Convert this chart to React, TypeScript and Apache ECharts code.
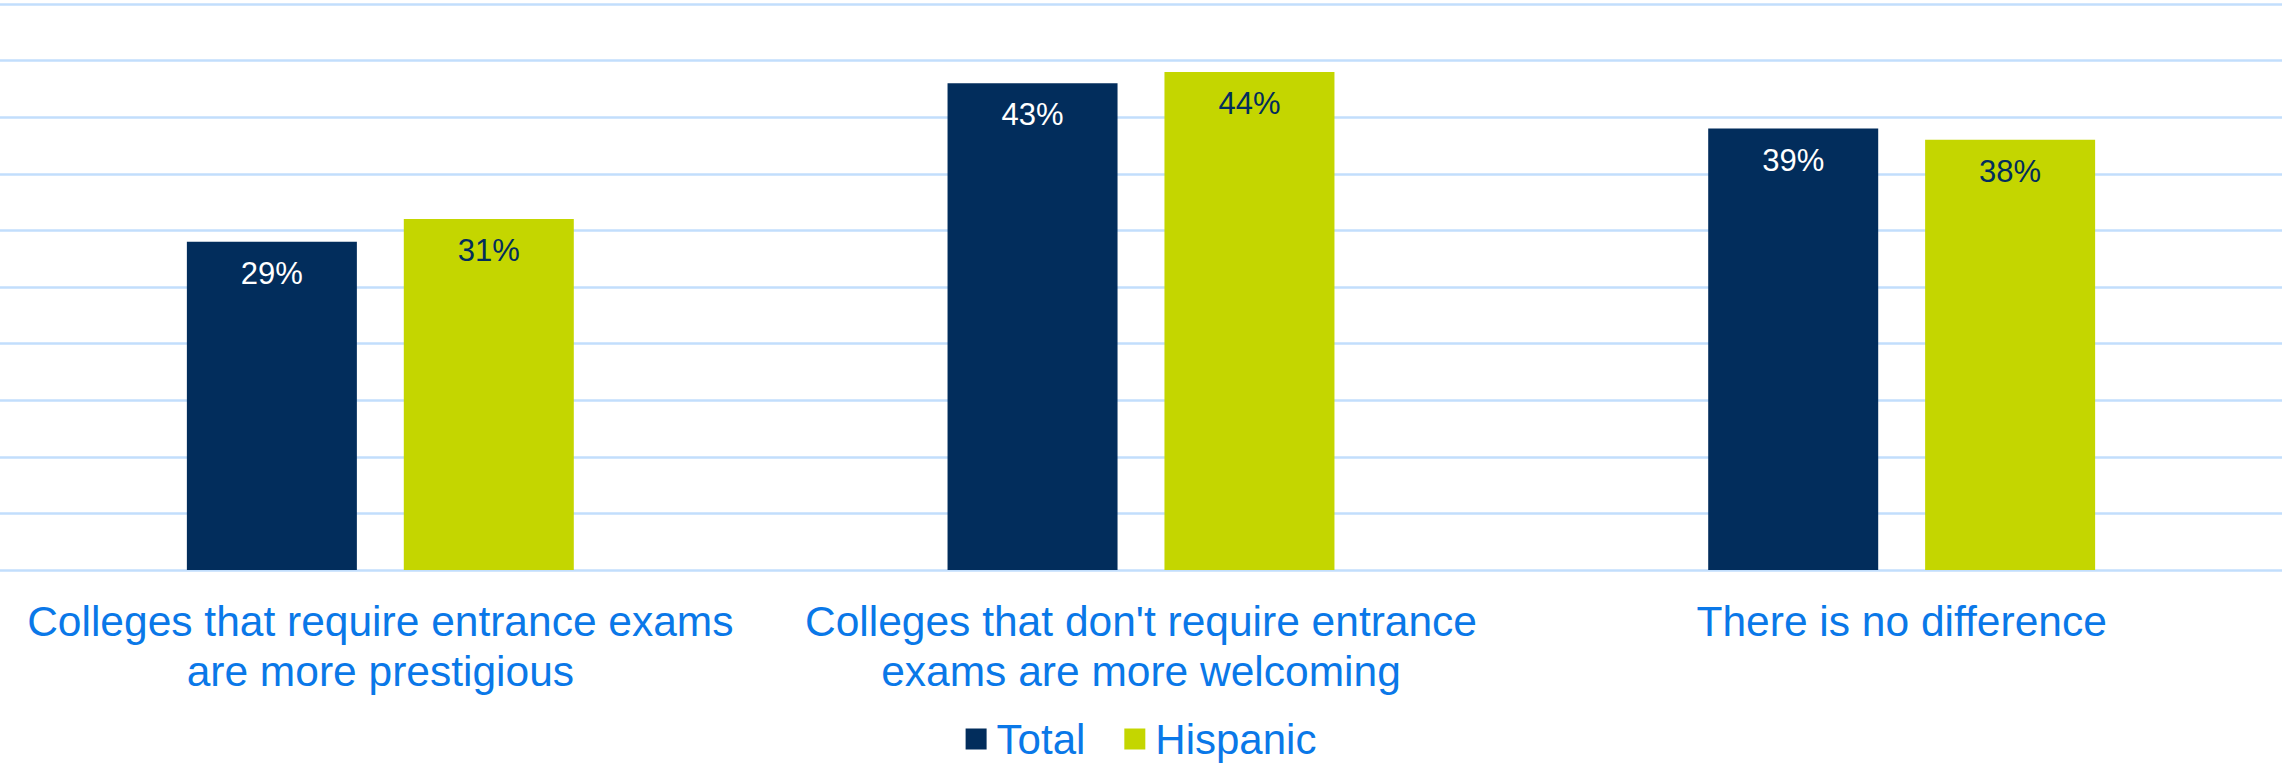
import React, { useEffect, useRef } from "react";
import * as echarts from "echarts";

const categories = [
  "Colleges that require entrance exams\nare more prestigious",
  "Colleges that don't require entrance\nexams are more welcoming",
  "There is no difference",
];
const seriesNames = ["Total", "Hispanic"];
const totalValues = [29, 43, 39];
const hispanicValues = [31, 44, 38];

const NAVY = "#022d5c";
const LIME = "#c4d600";
const BLUE_TEXT = "#0a78e8";
const GRID = "#c2defc";

export default function App() {
  const ref = useRef<HTMLDivElement>(null);
  useEffect(() => {
    if (!ref.current) return;
    const chart = echarts.init(ref.current, null, { renderer: "svg" });
    const font = "'Liberation Sans', Arial, sans-serif";
    chart.setOption({
      animation: false,
      grid: { left: 0, right: 0, top: 4, bottom: 195, containLabel: false },
      legend: {
        data: seriesNames,
        bottom: 0,
        left: "center",
        itemWidth: 21,
        itemHeight: 21,
        itemGap: 39,
        icon: "rect",
        textStyle: { fontFamily: font, fontSize: 42, color: BLUE_TEXT, padding: [0, 0, 0, 5] },
      },
      xAxis: {
        type: "category",
        data: categories,
        axisLine: { show: false },
        axisTick: { show: false },
        axisLabel: {
          interval: 0,
          margin: 26,
          fontFamily: font,
          fontSize: 42.5,
          lineHeight: 50,
          color: BLUE_TEXT,
          verticalAlign: "top",
        },
      },
      yAxis: {
        type: "value",
        min: 0,
        max: 50,
        interval: 5,
        axisLabel: { show: false },
        axisLine: { show: false },
        axisTick: { show: false },
        splitLine: { show: true, lineStyle: { color: GRID, width: 2.5 } },
      },
      series: [
        {
          name: seriesNames[0],
          type: "bar",
          data: totalValues,
          barWidth: 170,
          barGap: "27.6%",
          itemStyle: { color: NAVY },
          label: {
            show: true,
            position: "insideTop",
            distance: 16,
            formatter: "{c}%",
            fontFamily: font,
            fontSize: 31,
            color: "#ffffff",
          },
        },
        {
          name: seriesNames[1],
          type: "bar",
          data: hispanicValues,
          barWidth: 170,
          barGap: "27.6%",
          itemStyle: { color: LIME },
          label: {
            show: true,
            position: "insideTop",
            distance: 16,
            formatter: "{c}%",
            fontFamily: font,
            fontSize: 31,
            color: NAVY,
          },
        },
      ],
    });
    return () => chart.dispose();
  }, []);
  return (
    <div
      ref={ref}
      style={{ position: "fixed", left: 0, top: 0, width: 2282, height: 765, background: "#ffffff" }}
    />
  );
}
